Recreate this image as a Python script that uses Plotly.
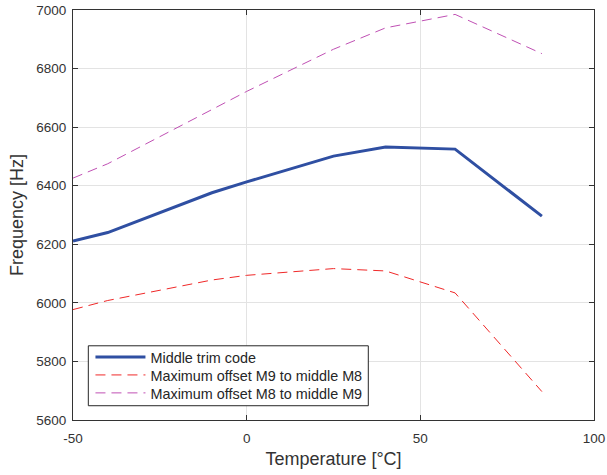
import plotly.graph_objects as go

temps = [-50, -40, -10, 0, 25, 40, 60, 85]
middle_trim = [6211, 6240, 6376, 6413, 6501, 6532, 6525, 6296]
m9_to_m8 = [5977, 6008, 6078, 6094, 6117, 6109, 6034, 5697]
m8_to_m9 = [6426, 6475, 6660, 6722, 6866, 6939, 6985, 6851]

names = ["Middle trim code", "Maximum offset M9 to middle M8", "Maximum offset M8 to middle M9"]
x_ticks = [-50, 0, 50, 100]
x_tick_labels = ["-50", "0", "50", "100"]
y_ticks = [5600, 5800, 6000, 6200, 6400, 6600, 6800, 7000]

TXT = "#333333"
FONT = "Liberation Sans"

fig = go.Figure()
fig.add_trace(go.Scatter(x=temps, y=middle_trim, mode="lines", name=names[0],
                         line=dict(color="#2f4fa2", width=3), legend="legend"))
fig.add_trace(go.Scatter(x=temps, y=m9_to_m8, mode="lines", name=names[1],
                         line=dict(color="#f02828", width=1, dash="10px,6px"), legend="legend2"))
fig.add_trace(go.Scatter(x=temps, y=m8_to_m9, mode="lines", name=names[2],
                         line=dict(color="#c050b4", width=1, dash="10px,6px"), legend="legend3"))

axis_common = dict(
    showgrid=True, gridcolor="#e3e3e3", gridwidth=1,
    showline=True, linecolor="#333333", linewidth=1, mirror="ticks",
    ticks="inside", ticklen=5, tickcolor="#333333",
    zeroline=False, automargin=False,
    tickfont=dict(family=FONT, size=13.5, color=TXT),
)

fig.update_xaxes(range=[-50, 100], tickvals=x_ticks, ticktext=x_tick_labels,
                 ticklabelstandoff=6,
                 title=dict(text="Temperature [°C]", font=dict(family=FONT, size=18, color=TXT), standoff=7),
                 **axis_common)
fig.update_yaxes(range=[5600, 7000], tickvals=y_ticks, ticklabelstandoff=3,
                 title=dict(text="Frequency [Hz]", font=dict(family=FONT, size=18, color=TXT), standoff=7),
                 **axis_common)

# legend box (paper coords)
fig.add_shape(type="rect", xref="paper", yref="paper",
              x0=0.0294, x1=0.5668, y0=0.0348, y1=0.181,
              fillcolor="white", line=dict(color="#262626", width=1), layer="above")

leg_common = dict(xanchor="left", yanchor="middle", bgcolor="rgba(0,0,0,0)", borderwidth=0,
                  font=dict(family=FONT, size=14.4, color="#262626"), itemwidth=50)
leg_x = 0.0335
fig.update_layout(
    width=607, height=475,
    margin=dict(l=73, r=13, t=10, b=55),
    paper_bgcolor="white", plot_bgcolor="white",
    showlegend=True,
    legend=dict(x=leg_x, y=0.1535, **leg_common),
    legend2=dict(x=leg_x, y=0.1096, **leg_common),
    legend3=dict(x=leg_x, y=0.0658, **leg_common),
    font=dict(family=FONT),
)

fig.write_html("out.html", config={"displayModeBar": False},
               post_script="document.body.style.margin='0px';document.body.style.overflow='hidden';")
